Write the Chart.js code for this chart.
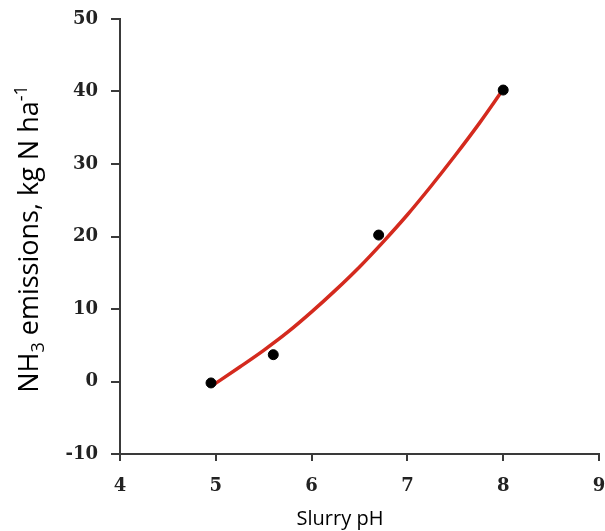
<!DOCTYPE html>
<html>
<head>
<meta charset="utf-8">
<script src="https://cdn.jsdelivr.net/npm/chart.js@4.4.0/dist/chart.umd.min.js"></script>
<style>
  html, body { margin: 0; padding: 0; background: #fff; }
  #wrap { width: 605px; height: 531px; }
</style>
</head>
<body>
<div id="wrap"><canvas id="chart" width="605" height="531"></canvas></div>
<script>
// measured points (slurry pH vs NH3 emissions)
const phValues = [4.95, 5.6, 6.7, 8.0];
const emissions = [-0.2, 3.7, 20.2, 40.2];

// fitted curve
const curvePh = [4.97, 5.25, 5.5, 5.75, 6.0, 6.25, 6.5, 6.75, 7.0, 7.25, 7.5, 7.75, 8.0];
const curveEmissions = [-0.5, 2.0, 4.3, 6.8, 9.6, 12.6, 15.8, 19.3, 23.0, 27.0, 31.2, 35.6, 40.3];

const xTicks = [4, 5, 6, 7, 8, 9];
const yTicks = [-10, 0, 10, 20, 30, 40, 50];

const axisColor = '#3a3a3a';
const titleFamily = '"Open Sans", "Noto Sans", sans-serif';
const tickFont = { family: '"DejaVu Serif", "Liberation Serif", serif', size: 18, weight: 'bold' };

// axis titles drawn by hand (the y one needs sub/superscripts)
const titlesPlugin = {
    id: 'titles',
    afterDraw(chart) {
        const ctx = chart.ctx;
        const size = 27;
        const small = 18;
        const parts = [
            { t: 'NH', f: size, dy: 0 },
            { t: '3', f: small, dy: 6 },
            { t: ' emissions, kg N ha', f: size, dy: 0 },
            { t: '-1', f: small, dy: -11 }
        ];
        ctx.save();
        let total = 0;
        parts.forEach(p => {
            ctx.font = p.f + 'px ' + titleFamily;
            p.w = ctx.measureText(p.t).width;
            total += p.w;
        });
        ctx.translate(38, 239);
        ctx.rotate(-Math.PI / 2);
        ctx.fillStyle = '#000';
        ctx.textBaseline = 'alphabetic';
        let x = -total / 2;
        parts.forEach(p => {
            ctx.font = p.f + 'px ' + titleFamily;
            ctx.fillText(p.t, x, p.dy);
            x += p.w;
        });
        ctx.restore();

        ctx.save();
        ctx.font = '20px ' + titleFamily;
        ctx.fillStyle = '#000';
        ctx.textAlign = 'center';
        ctx.textBaseline = 'middle';
        ctx.fillText('Slurry pH', 340, 519);
        ctx.restore();
    }
};

new Chart(document.getElementById('chart'), {
    type: 'scatter',
    data: {
        datasets: [{
            type: 'line',
            label: 'Fit',
            data: curvePh.map((x, i) => ({ x, y: curveEmissions[i] })),
            borderColor: '#d42a1e',
            borderWidth: 3.5,
            pointRadius: 0,
            cubicInterpolationMode: 'monotone',
            fill: false,
            order: 2
        }, {
            label: 'Measured',
            data: phValues.map((x, i) => ({ x, y: emissions[i] })),
            backgroundColor: '#000',
            borderColor: '#000',
            pointRadius: 5,
            order: 1
        }]
    },
    options: {
        responsive: false,
        animation: false,
        layout: { padding: { top: 19, right: 4, left: 0, bottom: 0 } },
        plugins: { legend: { display: false }, tooltip: { enabled: false } },
        scales: {
            x: {
                type: 'linear',
                min: 4,
                max: 9,
                afterBuildTicks: s => { s.ticks = xTicks.map(v => ({ value: v })); },
                afterFit: s => { s.height = 77; s.paddingLeft = 0; s.paddingRight = 0; },
                grid: { drawOnChartArea: false, drawTicks: true, tickLength: 7, color: axisColor, lineWidth: 2 },
                border: { display: true, color: axisColor, width: 2 },
                ticks: { color: '#222', font: tickFont, padding: 15, maxRotation: 0 }
            },
            y: {
                type: 'linear',
                min: -10,
                max: 50,
                afterBuildTicks: s => { s.ticks = yTicks.map(v => ({ value: v })); },
                afterFit: s => { s.width = 120; s.paddingTop = 0; s.paddingBottom = 0; },
                grid: { drawOnChartArea: false, drawTicks: true, tickLength: 9, color: axisColor, lineWidth: 2 },
                border: { display: true, color: axisColor, width: 2 },
                ticks: { color: '#222', font: tickFont, padding: 13 }
            }
        }
    },
    plugins: [titlesPlugin]
});
</script>
</body>
</html>
